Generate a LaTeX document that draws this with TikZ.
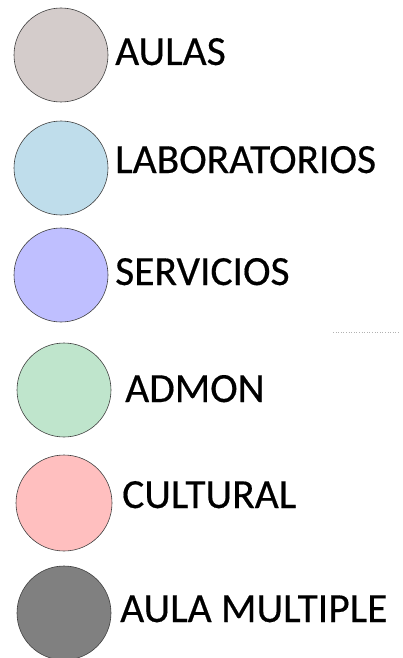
\documentclass[tikz,border=0pt]{standalone}
\usepackage{fontspec}
\setmainfont{Carlito}
\newfontface\lblfont{Carlito}[FakeBold=0.4]
\definecolor{cAulas}{HTML}{D4CCCB}
\definecolor{cLab}{HTML}{BFDDEB}
\definecolor{cServ}{HTML}{BFBFFF}
\definecolor{cAdmon}{HTML}{BFE5CC}
\definecolor{cCult}{HTML}{FFBFBF}
\definecolor{cMult}{HTML}{808080}
\definecolor{cEdge}{HTML}{404040}
\begin{document}
\begin{tikzpicture}[x=1pt,y=-1pt,
  dot/.style={circle,draw=cEdge,line width=0.6pt,minimum size=94pt,inner sep=0pt},
  lbl/.style={anchor=base west,inner sep=0pt,font=\lblfont\fontsize{41.5}{42}\selectfont}]
\useasboundingbox (0,0) rectangle (403,658);
\node[dot,fill=cAulas] (c1) at (61,55) {};
\node[dot,fill=cLab] (c2) at (61,168) {};
\node[dot,fill=cServ] (c3) at (61,275) {};
\node[dot,fill=cAdmon] (c4) at (64,390) {};
\node[dot,fill=cCult,minimum size=96pt] (c5) at (64,503) {};
\node[dot,fill=cMult] (c6) at (64,613) {};
\node[lbl] (t1) at (115,65) {AULAS};
\node[lbl] (t2) at (115,173) {LABORATORIOS};
\node[lbl] (t3) at (115,285) {SERVICIOS};
\node[lbl] (t4) at (125,402) {ADMON};
\node[lbl] (t5) at (122,508) {CULTURAL};
\node[lbl] (t6) at (120,622) {AULA MULTIPLE};
\coordinate (d1) at (333,332);
\coordinate (d2) at (400,332);
\draw[gray!60,dotted,line width=0.6pt] (d1) -- (d2);
\end{tikzpicture}
\end{document}
